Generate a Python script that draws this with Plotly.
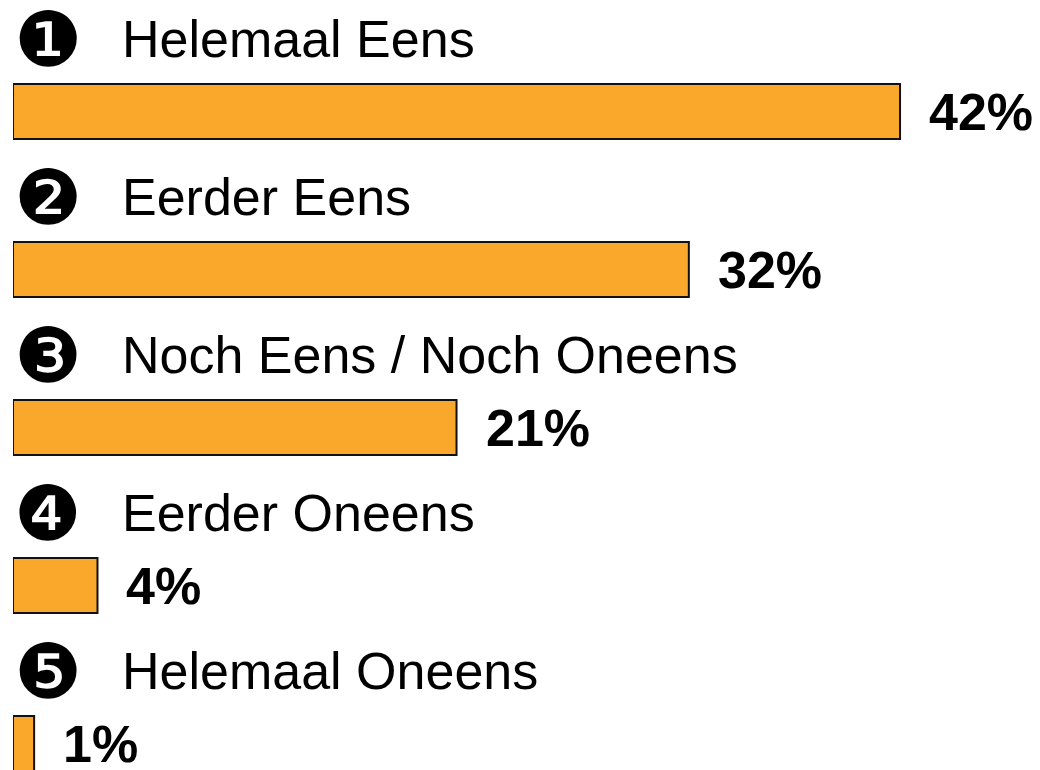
import plotly.graph_objects as go

categories = ["Helemaal Eens", "Eerder Eens", "Noch Eens / Noch Oneens", "Eerder Oneens", "Helemaal Oneens"]
markers = ["\u2776", "\u2777", "\u2778", "\u2779", "\u277A"]
values = [42, 32, 21, 4, 1]
labels = ["42%", "32%", "21%", "4%", "1%"]

W, H = 1040, 770
off = 8  # page body margin
left = 13 - off
px_per_unit = 21.12
pitch = 158
first_center = 111.5 - off

ypos = list(range(len(categories)))

fig = go.Figure()
fig.add_trace(go.Bar(
    x=values, y=ypos, orientation="h",
    width=55 / pitch,
    marker=dict(color="#FAA82C", line=dict(color="#111111", width=2)),
    hoverinfo="skip",
))

ann = []
for i, (cat, mk, v, lab) in enumerate(zip(categories, markers, values, labels)):
    ann.append(dict(x=0, y=i, xref="x", yref="y", text=mk, showarrow=False,
                    xanchor="center", yanchor="middle", xshift=35, yshift=72,
                    font=dict(family="DejaVu Sans", size=76, color="black")))
    ann.append(dict(x=0, y=i, xref="x", yref="y", text=cat, showarrow=False,
                    xanchor="left", yanchor="middle", xshift=107, yshift=73,
                    font=dict(family="Liberation Sans", size=52, color="black")))
    ann.append(dict(x=v, y=i, xref="x", yref="y", text="<b>" + lab + "</b>", showarrow=False,
                    xanchor="left", yanchor="middle", xshift=27, yshift=0,
                    font=dict(family="Liberation Sans", size=52, color="black")))

fig.update_layout(
    width=W, height=H,
    margin=dict(l=left, r=0, t=0, b=0),
    paper_bgcolor="white", plot_bgcolor="white",
    showlegend=False,
    annotations=ann,
    xaxis=dict(range=[0, (W - left) / px_per_unit], visible=False, fixedrange=True),
    yaxis=dict(range=[(H - first_center) / pitch, -first_center / pitch], visible=False, fixedrange=True),
)

fig.write_html("out.html")
